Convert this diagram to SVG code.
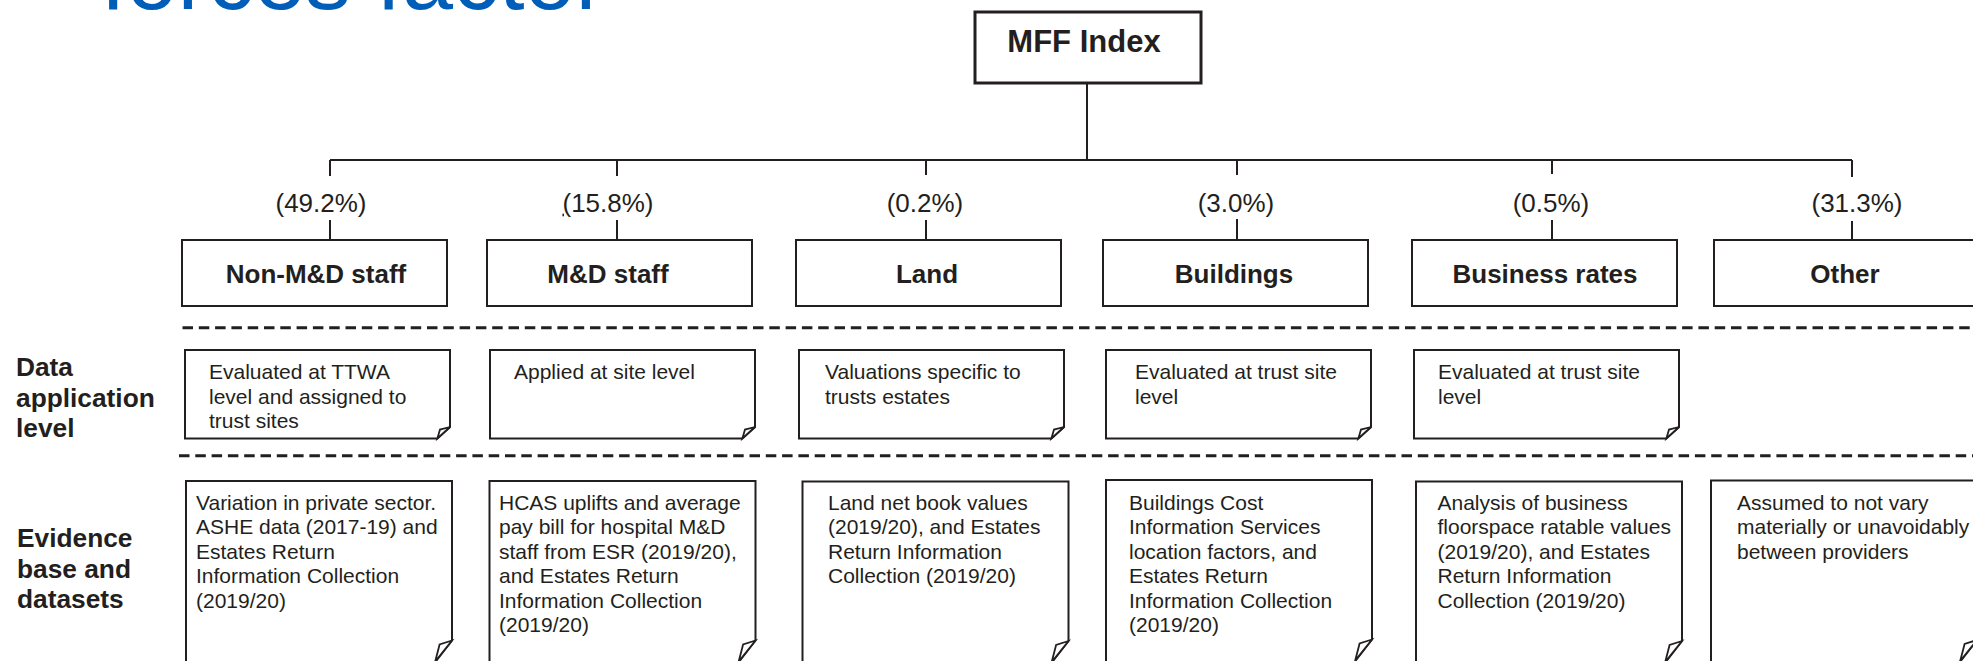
<svg xmlns="http://www.w3.org/2000/svg" xmlns:xlink="http://www.w3.org/1999/xlink" width="1973" height="661" viewBox="0 0 1973 661">
<style>
text{font-family:"Liberation Sans",Arial,sans-serif;fill:#231F20}
.title{font-size:92px;fill:#005EB8}
.root{font-size:31px;font-weight:bold}
.hdr{font-size:26px;font-weight:bold;text-anchor:middle}
.pct{font-size:26px;text-anchor:middle}
.row{font-size:26.3px;font-weight:bold}
.note{font-size:21px}
.box{fill:#fff;stroke:#231F20;stroke-width:2}
.line{fill:none;stroke:#231F20;stroke-width:2}
.dash{fill:none;stroke:#231F20;stroke-width:3;stroke-dasharray:10.5 5.8}
.fold{fill:#fff;stroke:#231F20;stroke-width:1.8;stroke-linejoin:miter}
</style>
<defs>
<g id="noteA">
<path class="box" d="M0 0 H265 V77 L252.4 88.5 H0 Z"/>
<path class="fold" d="M265 77 L255 79.6 L252.4 88.5 Z"/>
</g>
<g id="noteB">
<path class="box" d="M0 0 H266 V159.5 L248.5 182 H0 Z"/>
<path class="fold" d="M266 159.5 L253.6 163.5 L249.2 180.5 Z"/>
</g>
</defs>
<rect width="1973" height="661" fill="#fff"/>
<text class="title" x="101" y="8.5" textLength="505" lengthAdjust="spacingAndGlyphs">forces factor</text>

<g id="connectors">
<line class="line" x1="1087" y1="83" x2="1087" y2="160"/>
<line class="line" x1="330" y1="160" x2="1852" y2="160"/>
<line class="line" x1="330" y1="160" x2="330" y2="176"/>
<line class="line" x1="330" y1="220" x2="330" y2="240"/>
<line class="line" x1="617" y1="160" x2="617" y2="176"/>
<line class="line" x1="617" y1="220" x2="617" y2="240"/>
<line class="line" x1="926" y1="160" x2="926" y2="175"/>
<line class="line" x1="926" y1="220" x2="926" y2="240"/>
<line class="line" x1="1237" y1="160" x2="1237" y2="175"/>
<line class="line" x1="1237" y1="219" x2="1237" y2="240"/>
<line class="line" x1="1552" y1="160" x2="1552" y2="174"/>
<line class="line" x1="1552" y1="220" x2="1552" y2="240"/>
<line class="line" x1="1852" y1="160" x2="1852" y2="177"/>
<line class="line" x1="1852" y1="221" x2="1852" y2="240"/>
</g>

<g id="labels">
<text class="pct" x="321" y="211.7">(49.2%)</text>
<text class="pct" x="608" y="211.7"><tspan text-decoration="underline">(</tspan>15.8%)</text>
<text class="pct" x="925" y="211.7">(0.2%)</text>
<text class="pct" x="1236" y="211.7">(3.0%)</text>
<text class="pct" x="1551" y="211.7">(0.5%)</text>
<text class="pct" x="1857" y="211.7">(31.3%)</text>
</g>

<g id="separators">
<line class="dash" x1="182.5" y1="327.7" x2="1973" y2="327.7"/>
<line class="dash" x1="179" y1="455.7" x2="1973" y2="455.7"/>
</g>

<g id="row-labels">
<text class="row" x="16" y="376">Data</text>
<text class="row" x="16" y="406.5">application</text>
<text class="row" x="16" y="437">level</text>
<text class="row" x="17" y="547">Evidence</text>
<text class="row" x="17" y="577.5">base and</text>
<text class="row" x="17" y="607.5">datasets</text>
</g>

<g id="mff-index">
<rect x="975" y="12" width="226" height="71" fill="#fff" stroke="#231F20" stroke-width="3"/>
<text class="root" x="1084" y="52" text-anchor="middle">MFF Index</text>
</g>

<g id="non-md-staff">
<rect class="box" x="182" y="240" width="265" height="66"/>
<text class="hdr" x="316" y="283">Non-M&amp;D staff</text>
</g>
<g id="md-staff">
<rect class="box" x="487" y="240" width="265" height="66"/>
<text class="hdr" x="608" y="283">M&amp;D staff</text>
</g>
<g id="land">
<rect class="box" x="796" y="240" width="265" height="66"/>
<text class="hdr" x="927" y="283">Land</text>
</g>
<g id="buildings">
<rect class="box" x="1103" y="240" width="265" height="66"/>
<text class="hdr" x="1234" y="283">Buildings</text>
</g>
<g id="business-rates">
<rect class="box" x="1412" y="240" width="265" height="66"/>
<text class="hdr" x="1545" y="283">Business rates</text>
</g>
<g id="other">
<rect class="box" x="1714" y="240" width="265" height="66"/>
<text class="hdr" x="1845" y="283">Other</text>
</g>

<g id="data-non-md">
<use xlink:href="#noteA" x="185" y="350"/>
<text class="note" x="209" y="379">Evaluated at TTWA</text>
<text class="note" x="209" y="403.5">level and assigned to</text>
<text class="note" x="209" y="428">trust sites</text>
</g>
<g id="data-md">
<use xlink:href="#noteA" x="490" y="350"/>
<text class="note" x="514" y="379">Applied at site level</text>
</g>
<g id="data-land">
<use xlink:href="#noteA" x="799" y="350"/>
<text class="note" x="825" y="379">Valuations specific to</text>
<text class="note" x="825" y="403.5">trusts estates</text>
</g>
<g id="data-buildings">
<use xlink:href="#noteA" x="1106" y="350"/>
<text class="note" x="1135" y="379">Evaluated at trust site</text>
<text class="note" x="1135" y="403.5">level</text>
</g>
<g id="data-business">
<use xlink:href="#noteA" x="1414" y="350"/>
<text class="note" x="1438" y="379">Evaluated at trust site</text>
<text class="note" x="1438" y="403.5">level</text>
</g>

<g id="evidence-non-md">
<use xlink:href="#noteB" x="186" y="481"/>
<text class="note" x="196" y="510">Variation in private sector.</text>
<text class="note" x="196" y="534.4">ASHE data (2017-19) and</text>
<text class="note" x="196" y="558.8">Estates Return</text>
<text class="note" x="196" y="583.2">Information Collection</text>
<text class="note" x="196" y="607.6">(2019/20)</text>
</g>
<g id="evidence-md">
<use xlink:href="#noteB" x="489.5" y="481"/>
<text class="note" x="499" y="510">HCAS uplifts and average</text>
<text class="note" x="499" y="534.4">pay bill for hospital M&amp;D</text>
<text class="note" x="499" y="558.8">staff from ESR (2019/20),</text>
<text class="note" x="499" y="583.2">and Estates Return</text>
<text class="note" x="499" y="607.6">Information Collection</text>
<text class="note" x="499" y="632">(2019/20)</text>
</g>
<g id="evidence-land">
<use xlink:href="#noteB" x="802.5" y="481.5"/>
<text class="note" x="828" y="510">Land net book values</text>
<text class="note" x="828" y="534.4">(2019/20), and Estates</text>
<text class="note" x="828" y="558.8">Return Information</text>
<text class="note" x="828" y="583.2">Collection (2019/20)</text>
</g>
<g id="evidence-buildings">
<use xlink:href="#noteB" x="1106" y="480"/>
<text class="note" x="1129" y="510">Buildings Cost</text>
<text class="note" x="1129" y="534.4">Information Services</text>
<text class="note" x="1129" y="558.8">location factors, and</text>
<text class="note" x="1129" y="583.2">Estates Return</text>
<text class="note" x="1129" y="607.6">Information Collection</text>
<text class="note" x="1129" y="632">(2019/20)</text>
</g>
<g id="evidence-business">
<use xlink:href="#noteB" x="1416" y="481.5"/>
<text class="note" x="1437.5" y="510">Analysis of business</text>
<text class="note" x="1437.5" y="534.4">floorspace ratable values</text>
<text class="note" x="1437.5" y="558.8">(2019/20), and Estates</text>
<text class="note" x="1437.5" y="583.2">Return Information</text>
<text class="note" x="1437.5" y="607.6">Collection (2019/20)</text>
</g>
<g id="evidence-other">
<use xlink:href="#noteB" x="1711" y="480.5"/>
<text class="note" x="1737" y="510">Assumed to not vary</text>
<text class="note" x="1737" y="534.4">materially or unavoidably</text>
<text class="note" x="1737" y="558.8">between providers</text>
</g>
</svg>
